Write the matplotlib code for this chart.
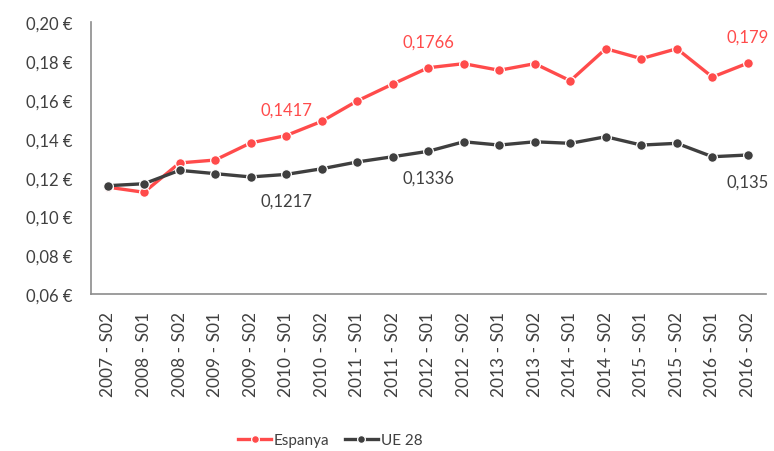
import matplotlib
matplotlib.use("Agg")
import matplotlib.pyplot as plt
from matplotlib.ticker import FuncFormatter

plt.rcParams['font.family'] = ['Lato', 'DejaVu Sans']

categories = ["2007 - S02", "2008 - S01", "2008 - S02", "2009 - S01", "2009 - S02",
              "2010 - S01", "2010 - S02", "2011 - S01", "2011 - S02", "2012 - S01",
              "2012 - S02", "2013 - S01", "2013 - S02", "2014 - S01", "2014 - S02",
              "2015 - S01", "2015 - S02", "2016 - S01", "2016 - S02"]
espanya = [0.1151, 0.1125, 0.1276, 0.1291, 0.1379, 0.1417, 0.1490, 0.1595, 0.1682,
           0.1766, 0.1787, 0.1753, 0.1787, 0.1699, 0.1864, 0.1813, 0.1864, 0.1718, 0.1790]
ue28 = [0.1159, 0.1169, 0.1238, 0.1221, 0.1204, 0.1217, 0.1246, 0.1281, 0.1308,
        0.1336, 0.1385, 0.1368, 0.1385, 0.1377, 0.1411, 0.1368, 0.1377, 0.1308, 0.1317]
# data labels: (index, text)
esp_labels = [(5, "0,1417"), (9, "0,1766"), (18, "0,179")]
ue_labels = [(5, "0,1217"), (9, "0,1336"), (18, "0,135")]

RED = "#FF4B4B"
DARK = "#3F3F3F"
TXT = "#404040"

fig = plt.figure(figsize=(7.74, 4.52), dpi=100)
ax = fig.add_axes([0.1172, 0.3467, 0.9893 - 0.1172, 0.9485 - 0.3467])

x = list(range(len(categories)))
ax.plot(x, espanya, color=RED, lw=2.4, marker='o', ms=7, mfc=RED, mec='white', mew=0.9,
        label='Espanya', zorder=3)
ax.plot(x, ue28, color=DARK, lw=2.4, marker='o', ms=7, mfc=DARK, mec='white', mew=0.9,
        label='UE 28', zorder=3)

for i, t in esp_labels:
    ax.annotate(t, (x[i], espanya[i]), xytext=(0, 19), textcoords='offset points',
                ha='center', va='center', color=RED, fontsize=12)
for i, t in ue_labels:
    ax.annotate(t, (x[i], ue28[i]), xytext=(0, -19), textcoords='offset points',
                ha='center', va='center', color=TXT, fontsize=12)

ax.set_xlim(-0.5, len(categories) - 0.5)
ax.set_ylim(0.06, 0.20)
ax.set_yticks([0.06, 0.08, 0.10, 0.12, 0.14, 0.16, 0.18, 0.20])
ax.yaxis.set_major_formatter(FuncFormatter(lambda v, p: f"{v:.2f} €".replace('.', ',')))
ax.set_xticks(x)
ax.set_xticklabels(categories, rotation=90)

for s in ['top', 'right']:
    ax.spines[s].set_visible(False)
for s in ['left', 'bottom']:
    ax.spines[s].set_color('#8C8C8C')
    ax.spines[s].set_linewidth(1.2)
ax.tick_params(axis='y', length=0, pad=13, labelsize=12, labelcolor=TXT)
ax.tick_params(axis='x', length=0, pad=12, labelsize=12.5, labelcolor=TXT)

leg = fig.legend(loc='center', bbox_to_anchor=(330 / 774, 1 - 441 / 452), ncol=2,
                 frameon=False, fontsize=11, handlelength=2.2, columnspacing=1.0,
                 handletextpad=0.15, markerscale=0.8)
for t in leg.get_texts():
    t.set_color(TXT)

fig.savefig("out.png", dpi=100)
